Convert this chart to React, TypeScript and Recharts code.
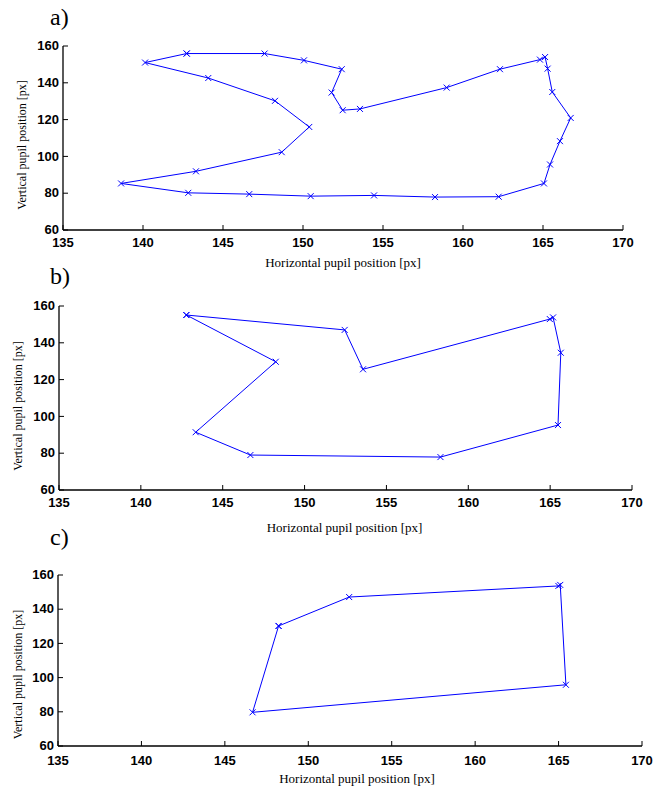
import React from 'react';
import { LineChart, Line, XAxis, YAxis } from 'recharts';

// ---------- data ----------
const xTicks = [135, 140, 145, 150, 155, 160, 165, 170];
const yTicks = [60, 80, 100, 120, 140, 160];
const xLabel = 'Horizontal pupil position [px]';
const yLabel = 'Vertical pupil position [px]';
const panelNames = ['a)', 'b)', 'c)'];

const aX = [142.73, 147.6, 150.06, 152.42, 151.79, 152.48, 153.56, 158.98, 162.31, 164.81, 165.13, 165.29, 165.58, 166.73, 166.06, 165.44, 165.06, 162.23, 158.25, 154.44, 150.48, 146.64, 142.83, 138.63, 143.31, 148.67, 150.39, 148.25, 144.08, 140.13, 142.73];
const aY = [155.9, 155.9, 152.2, 147.4, 134.7, 125.1, 125.8, 137.4, 147.4, 152.6, 154.0, 147.7, 135.0, 120.9, 108.3, 95.6, 85.3, 78.1, 77.9, 78.8, 78.4, 79.5, 80.2, 85.3, 91.9, 102.3, 116.0, 130.2, 142.6, 151.0, 155.9];

const bX = [142.78, 152.45, 153.57, 164.98, 165.18, 165.65, 165.48, 158.3, 146.69, 143.35, 148.24, 142.78];
const bY = [155.1, 147.0, 125.6, 152.9, 153.8, 134.6, 95.3, 77.9, 79.0, 91.4, 129.7, 155.1];

const cX = [148.22, 152.45, 164.99, 165.1, 165.44, 146.66, 148.22];
const cY = [130.2, 147.1, 153.6, 154.2, 95.8, 79.7, 130.2];

const toRows = (xs: number[], ys: number[]) => xs.map((x, i) => ({ x, y: ys[i] }));

// ---------- styling ----------
const BLUE = '#0000ff';
const SANS = '"Liberation Sans", Arial, Helvetica, sans-serif';
const SERIF = '"Liberation Serif", "Times New Roman", serif';
const TICK = 5;

const XDot = (p: any) => {
  const { cx, cy, index } = p;
  if (cx == null || cy == null) return <g key={`d${index}`} />;
  const s = 3;
  return (
    <path
      key={`d${index}`}
      d={`M${cx - s},${cy - s}L${cx + s},${cy + s}M${cx - s},${cy + s}L${cx + s},${cy - s}`}
      stroke={BLUE}
      strokeWidth={1}
      fill="none"
    />
  );
};

const makeBottomTick = (dy: number) => (p: any) => {
  const { x, y, payload } = p;
  return (
    <g>
      <line x1={x} x2={x} y1={y} y2={y - TICK} stroke="#000" strokeWidth={1} />
      <text x={x} y={y + dy} textAnchor="middle" fontFamily={SANS} fontWeight="bold" fontSize={13} fill="#000">
        {payload.value}
      </text>
    </g>
  );
};

const LeftTick = (p: any) => {
  const { x, y, payload } = p;
  return (
    <g>
      <line x1={x} x2={x + TICK} y1={y} y2={y} stroke="#000" strokeWidth={1} />
      <text x={x - 4} y={y + 4.2} textAnchor="end" fontFamily={SANS} fontWeight="bold" fontSize={13} fill="#000">
        {payload.value}
      </text>
    </g>
  );
};

const TopTick = (p: any) => {
  const { x, y } = p;
  return <line x1={x} x2={x} y1={y} y2={y + TICK} stroke="#000" strokeWidth={1} />;
};

const RightTick = (p: any) => {
  const { x, y } = p;
  return <line x1={x} x2={x - TICK} y1={y} y2={y} stroke="#000" strokeWidth={1} />;
};

type PanelCfg = {
  top: number;
  height: number;
  yAxisW: number;
  marginRight: number;
  marginTop: number;
  xAxisH: number;
  tickDy: number;
  xLabelDy: number;
  xLabelDx: number;
  yLabelX: number;
  yLabelDy: number;
  nameY: number;
};

const panels: PanelCfg[] = [
  { top: 0, height: 270, yAxisW: 63, marginRight: 31, marginTop: 46, xAxisH: 40, tickDy: 17, xLabelDy: 37, xLabelDx: 0, yLabelX: 22, yLabelDy: 7, nameY: 25 },
  { top: 270, height: 270, yAxisW: 59, marginRight: 22, marginTop: 36, xAxisH: 50, tickDy: 17, xLabelDy: 42, xLabelDx: -1, yLabelX: 18, yLabelDy: 8, nameY: 14 },
  { top: 540, height: 249, yAxisW: 58, marginRight: 12, marginTop: 35, xAxisH: 43, tickDy: 18.5, xLabelDy: 37, xLabelDx: 7, yLabelX: 18, yLabelDy: 14, nameY: 5 },
];

const datasets = [toRows(aX, aY), toRows(bX, bY), toRows(cX, cY)];

const Panel = ({ cfg, data, name }: { cfg: PanelCfg; data: { x: number; y: number }[]; name: string }) => {
  const xLabelContent = (p: any) => {
    const vb = p.viewBox || {};
    return (
      <text
        x={vb.x + vb.width / 2 + cfg.xLabelDx}
        y={vb.y + cfg.xLabelDy}
        textAnchor="middle"
        fontFamily={SERIF}
        fontSize={13}
        fill="#000"
      >
        {xLabel}
      </text>
    );
  };
  const yLabelContent = (p: any) => {
    const vb = p.viewBox || {};
    const cy = vb.y + vb.height / 2 + cfg.yLabelDy;
    return (
      <text
        x={cfg.yLabelX}
        y={cy}
        transform={`rotate(-90 ${cfg.yLabelX} ${cy})`}
        textAnchor="middle"
        dominantBaseline="central"
        fontFamily={SERIF}
        fontSize={12}
        fill="#000"
      >
        {yLabel}
      </text>
    );
  };
  return (
    <div style={{ position: 'absolute', left: 0, top: cfg.top, width: 654, height: cfg.height }}>
      <LineChart
        width={654}
        height={cfg.height}
        data={data}
        margin={{ top: cfg.marginTop, right: cfg.marginRight, bottom: 0, left: 0 }}
      >
        <XAxis
          xAxisId="bottom"
          dataKey="x"
          type="number"
          domain={[135, 170]}
          ticks={xTicks}
          allowDataOverflow
          height={cfg.xAxisH}
          tickSize={0}
          tickMargin={0}
          tickLine={false}
          axisLine={{ stroke: '#000', strokeWidth: 1.3 }}
          tick={makeBottomTick(cfg.tickDy)}
          interval={0}
          label={{ content: xLabelContent }}
        />
        <XAxis
          xAxisId="top"
          orientation="top"
          dataKey="x"
          type="number"
          domain={[135, 170]}
          ticks={xTicks}
          allowDataOverflow
          height={0}
          tickSize={0}
          tickMargin={0}
          tickLine={false}
          axisLine={{ stroke: '#000', strokeWidth: 1.3 }}
          tick={TopTick}
          interval={0}
        />
        <YAxis
          yAxisId="left"
          type="number"
          domain={[60, 160]}
          ticks={yTicks}
          allowDataOverflow
          width={cfg.yAxisW}
          tickSize={0}
          tickMargin={0}
          tickLine={false}
          axisLine={{ stroke: '#000', strokeWidth: 1.3 }}
          tick={LeftTick}
          interval={0}
          label={{ content: yLabelContent }}
        />
        <YAxis
          yAxisId="right"
          orientation="right"
          type="number"
          domain={[60, 160]}
          ticks={yTicks}
          allowDataOverflow
          width={0}
          tickSize={0}
          tickMargin={0}
          tickLine={false}
          axisLine={{ stroke: '#000', strokeWidth: 1.3 }}
          tick={RightTick}
          interval={0}
        />
        <Line
          xAxisId="top"
          yAxisId="right"
          dataKey="y"
          stroke="none"
          dot={false}
          activeDot={false}
          isAnimationActive={false}
          legendType="none"
        />
        <Line
          xAxisId="bottom"
          yAxisId="left"
          dataKey="y"
          stroke={BLUE}
          strokeWidth={1}
          type="linear"
          dot={XDot}
          activeDot={false}
          isAnimationActive={false}
        />
      </LineChart>
      <svg width={120} height={40} style={{ position: 'absolute', left: 0, top: 0, overflow: 'visible', pointerEvents: 'none' }}>
        <text x={50} y={cfg.nameY} fontFamily={SERIF} fontSize={24} fill="#000">
          {name}
        </text>
      </svg>
    </div>
  );
}

export default function App() {
  return (
    <div style={{ position: 'absolute', left: 0, top: 0, width: 654, height: 789, background: '#fff' }}>
      {panels.map((cfg, i) => (
        <Panel key={i} cfg={cfg} data={datasets[i]} name={panelNames[i]} />
      ))}
    </div>
  );
}
